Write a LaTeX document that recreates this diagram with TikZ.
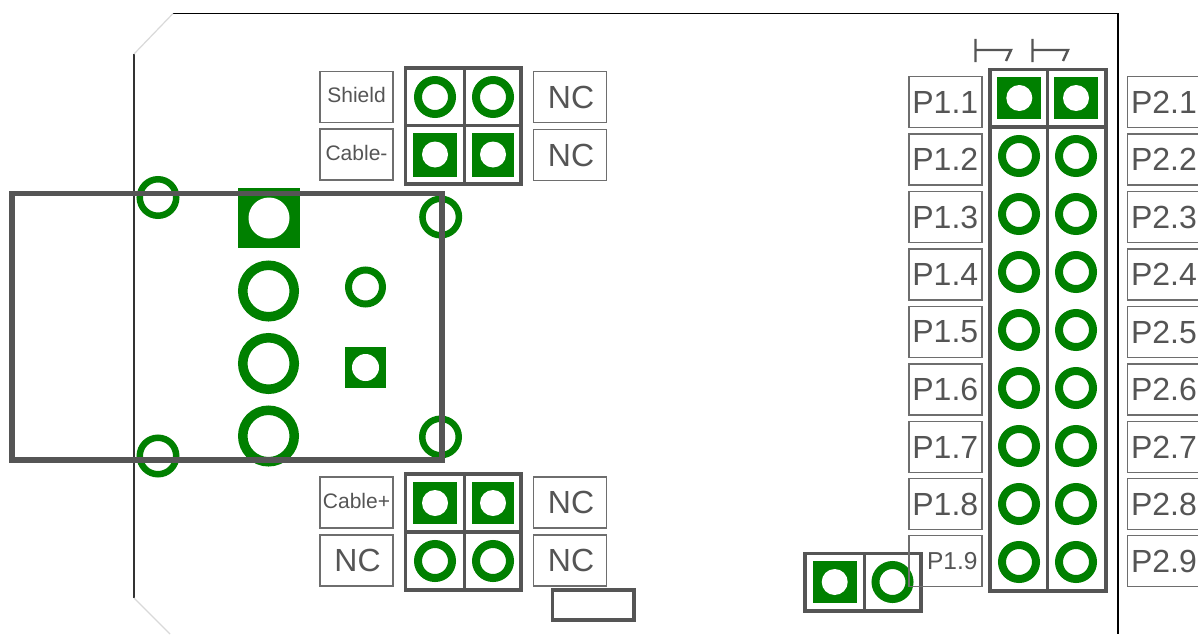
\documentclass[tikz,border=0pt]{standalone}
\usepackage{fontspec}
\setmainfont{Liberation Sans}
\definecolor{pcb}{HTML}{008000}
\definecolor{silk}{HTML}{555555}
\definecolor{lab}{HTML}{6E6E6E}
\definecolor{txt}{HTML}{555555}
\tikzset{
  ringpad/.style={circle,draw=pcb,fill=white,inner sep=0pt,outer sep=0pt},
  sqpad/.style={rectangle,fill=pcb,inner sep=0pt,outer sep=0pt},
  holepad/.style={circle,fill=white,inner sep=0pt,outer sep=0pt},
  labelbox/.style={rectangle,draw=lab,line width=1.8pt,inner sep=0pt,outer sep=0pt,
    minimum width=73pt,minimum height=51pt,text=txt,font=\fontsize{32}{32}\selectfont},
  smalllabel/.style={labelbox,font=\fontsize{21}{21}\selectfont},
  silkbox/.style={draw=silk,line width=3.5pt},
  thicksilk/.style={draw=silk,line width=5.5pt},
  edgeline/.style={draw=black,line width=1.5pt},
  chamfer/.style={draw=black!15,line width=1.2pt},
  pinone/.style={draw=silk,line width=2.4pt}
}
% name, x, y, outer radius, inner radius
\newcommand{\ringp}[5]{%
  \pgfmathsetmacro{\rmid}{#4+#5}%
  \pgfmathsetmacro{\rw}{#4-#5}%
  \node[ringpad,line width=\rw pt,minimum size=\rmid pt] (#1) at (#2,#3) {};}
% name, x, y, width, height, hole radius
\newcommand{\sqp}[6]{%
  \pgfmathsetmacro{\rd}{2*#6}%
  \node[sqpad,minimum width=#4pt,minimum height=#5pt] (#1) at (#2,#3) {};
  \node[holepad,minimum size=\rd pt] (#1h) at (#2,#3) {};}
\begin{document}
\begin{tikzpicture}[x=1pt,y=-1pt]
\useasboundingbox (0,0) rectangle (1198,634);
\fill[white] (0,0) rectangle (1198,634);
% board outline
\coordinate (o1) at (173,13.5);
\coordinate (o2) at (1118,13.5);
\coordinate (o3) at (1118,634);
\coordinate (o4) at (134,54);
\coordinate (o5) at (134,598);
\coordinate (o6) at (170,634);
\draw[edgeline] (o1) -- (o2) -- (o3);
\draw[edgeline,draw=black!80] (o4) -- (o5);
\draw[chamfer] (o4) -- (o1);
\draw[chamfer] (o5) -- (o6);
% connector pads
\ringp{m1}{158}{197.5}{21.5}{15}
\ringp{m2}{440.7}{217}{21.5}{15}
\ringp{m3}{158}{456}{21.5}{15}
\ringp{m4}{440.5}{437}{21.5}{15}
\sqp{j1}{269}{218}{62}{60}{20.5}
\ringp{j2}{268.5}{291}{30.5}{21}
\ringp{j3}{268.5}{363.5}{30.5}{21}
\ringp{j4}{268.5}{436}{30.5}{21}
\ringp{s1}{365.5}{287}{20.5}{13.5}
\sqp{s2}{365.5}{367.5}{41}{41}{13.5}
% group A
\ringp{a1}{435}{97}{21}{13}
\ringp{a2}{493}{97}{21}{13}
\sqp{a3}{435}{154.5}{44}{44}{13}
\sqp{a4}{493}{154.5}{42}{44}{13}
% group B
\sqp{b1}{435}{503}{44}{42}{13}
\sqp{b2}{493}{503}{42}{42}{13}
\ringp{b3}{435}{561}{21}{13}
\ringp{b4}{493}{561}{21}{13}
% group C
\sqp{c1}{834.7}{582}{44}{42}{13}
\ringp{c2}{892.5}{582}{21}{13}
% header
\sqp{h11}{1019.3}{98}{44}{42}{13}
\sqp{h12}{1076}{98}{44}{42}{13}
\foreach \k/\yy in {2/156,3/214,4/272,5/330,6/388,7/446,8/504,9/562}{
  \ringp{h\k1}{1019}{\yy}{21}{13}
  \ringp{h\k2}{1076}{\yy}{21}{13}
}
% silk rectangles
\draw[silkbox] (405.5,68) rectangle (521,184) (464.3,68) -- (464.3,184) (405.5,125.5) -- (521,125.5);
\draw[silkbox] (405.5,474) rectangle (521,590) (464.3,474) -- (464.3,590) (405.5,532) -- (521,532);
\draw[silkbox] (805,553.5) rectangle (921,611) (864.3,553.5) -- (864.3,611);
\draw[silkbox] (990,69.5) rectangle (1106,591) (1047.7,69.5) -- (1047.7,591) (990,127) -- (1106,127);
\draw[silkbox] (552.5,590) rectangle (634,620);
\draw[thicksilk] (12,193.5) rectangle (442,460);
% pin-one marks
\draw[pinone] (975.5,39) -- (975.5,62) (975.5,50) -- (1011,50) -- (1006,61);
\draw[pinone] (1032.5,39) -- (1032.5,62) (1032.5,50) -- (1068,50) -- (1063,61);
% labels
\node[smalllabel] (lshield) at (356.5,97) {\raisebox{3.5pt}{Shield}};
\node[smalllabel] (lcablem) at (356.5,154.5) {\raisebox{3.5pt}{Cable-}};
\node[smalllabel] (lcablep) at (356.5,502.5) {\raisebox{3.5pt}{Cable+}};
\node[labelbox] (lnc1) at (356.5,560.5) {\hspace*{2pt}NC};
\node[labelbox] (lnc2) at (570,97) {\hspace*{2pt}NC};
\node[labelbox] (lnc3) at (570,155) {\hspace*{2pt}NC};
\node[labelbox] (lnc4) at (570,502.5) {\hspace*{2pt}NC};
\node[labelbox] (lnc5) at (570,560.5) {\hspace*{2pt}NC};
\foreach \k/\yy in {1/102,2/159.5,3/217,4/274.5,5/332,6/389.5,7/447,8/504}{
  \node[labelbox] (p1\k) at (945.3,\yy) {P1.\k};
  \node[labelbox] (p2\k) at (1164,\yy) {P2.\k};
}
\node[labelbox,font=\fontsize{24.5}{24.5}\selectfont] (p19) at (945.3,561) {\hspace*{14pt}P1.9};
\node[labelbox] (p29) at (1164,561) {P2.9};
\end{tikzpicture}
\end{document}
